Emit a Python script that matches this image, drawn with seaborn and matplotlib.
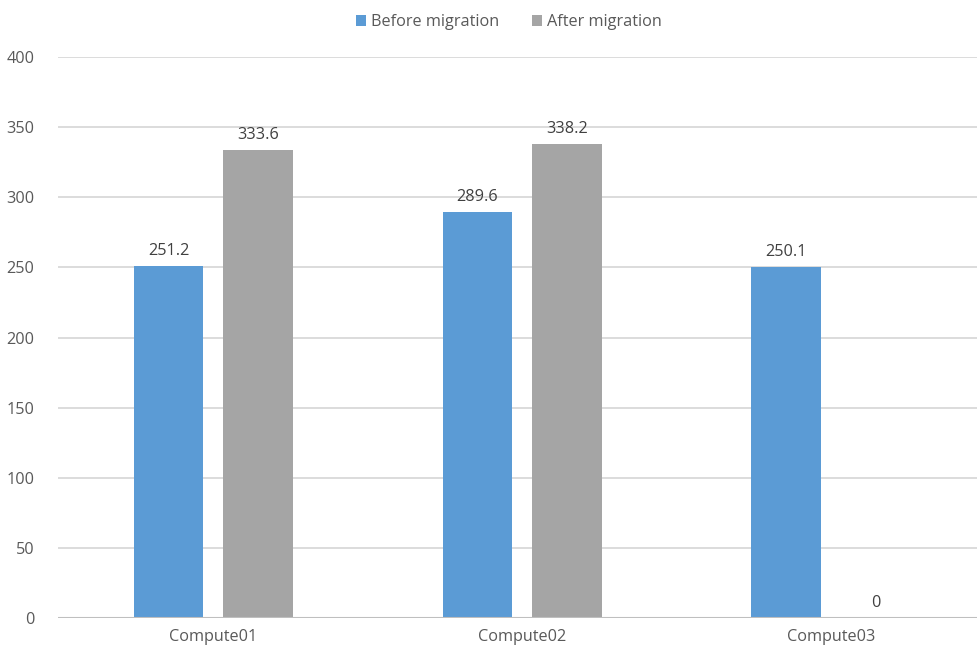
import matplotlib
matplotlib.use("Agg")
import matplotlib.pyplot as plt
import pandas as pd
import seaborn as sns

categories = ["Compute01", "Compute02", "Compute03"]
before_migration = [251.2, 289.6, 250.1]
after_migration = [333.6, 338.2, 0]
series_names = ["Before migration", "After migration"]
y_ticks = [0, 50, 100, 150, 200, 250, 300, 350, 400]

df = pd.DataFrame({
    "node": categories * 2,
    "value": before_migration + after_migration,
    "series": [series_names[0]] * 3 + [series_names[1]] * 3,
})

sns.set_theme(style="white")
plt.rcParams["font.family"] = ["Open Sans", "DejaVu Sans"]
text_color = "#595959"
fs = 11.7

fig = plt.figure(figsize=(9.78, 6.53), dpi=100)
ax = fig.add_axes([58 / 978, 35 / 653, 1 - 58 / 978, (618 - 57) / 653])

palette = {series_names[0]: "#5B9BD5", series_names[1]: "#A5A5A5"}
sns.barplot(data=df, x="node", y="value", hue="series", palette=palette,
            width=0.58, gap=0.22, ax=ax, legend=True, saturation=1,
            linewidth=0, zorder=3)

ax.set_ylim(0, 400)
ax.set_yticks(y_ticks)
ax.set_xlim(-0.5026, 2.475)
ax.set_xlabel("")
ax.set_ylabel("")
for y in y_ticks[1:]:
    ax.axhline(y, color="#d9d9d9", linewidth=1.3, zorder=1)
ax.axhline(0, color="#bfbfbf", linewidth=1.5, zorder=4)

for s in ax.spines.values():
    s.set_visible(False)
ax.tick_params(axis="y", length=0, pad=17, labelsize=fs, labelcolor=text_color)
ax.tick_params(axis="x", length=0, pad=8, labelsize=fs, labelcolor=text_color)

for container in ax.containers:
    ax.bar_label(container, labels=[f"{v:g}" for v in container.datavalues],
                 padding=5, fontsize=fs, color="#404040")

handles, labels = ax.get_legend_handles_labels()
ax.legend_.remove()
fig.legend(handles, labels, loc="center", bbox_to_anchor=(509 / 978, 1 - 22 / 653),
           ncol=2, frameon=False, fontsize=fs, labelcolor=text_color,
           handlelength=0.65, handleheight=0.65, handletextpad=0.3,
           columnspacing=2.0)

fig.savefig("out.png", dpi=100, facecolor="white")
